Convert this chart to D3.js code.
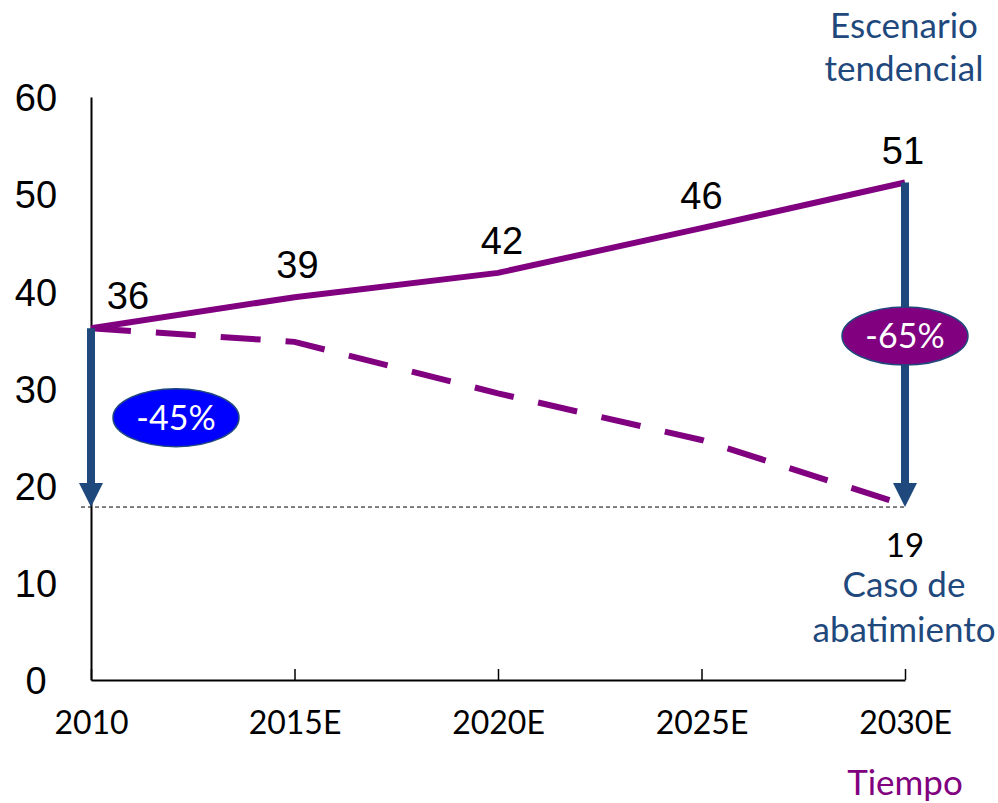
<!DOCTYPE html>
<html>
<head>
<meta charset="utf-8">
<script src="https://cdn.jsdelivr.net/npm/d3@7"></script>
<style>
  body { margin: 0; background: #fff; }
  svg { display: block; }
</style>
</head>
<body>
<svg width="998" height="803"></svg>
<script>
var years = ["2010", "2015E", "2020E", "2025E", "2030E"];
var tendencial = [36.2, 39.4, 41.9, 46.5, 51.2];
var abatimiento = [36.2, 34.8, 29.5, 24.7, 18.0];
var valueLabels = ["36", "39", "42", "46", "51"];
var yTicks = [0, 10, 20, 30, 40, 50, 60];
var baseline = 17.8;

var purple = "#800080";
var navy = "#1F497D";
var calibri = "Lato, 'Open Sans', sans-serif";
var arial = "Arial, 'Liberation Sans', sans-serif";

var svg = d3.select("svg");

var x = d3.scalePoint().domain(years).range([91, 905]);
var y = d3.scaleLinear().domain([0, 60]).range([680, 97]);

// axes
var xAxis = svg.append("g")
    .attr("transform", "translate(0," + y(0) + ")")
    .call(d3.axisBottom(x).tickSizeInner(-11).tickSizeOuter(0).tickPadding(31));
xAxis.select(".domain").attr("stroke", "#000").attr("stroke-width", 2);
xAxis.selectAll(".tick line").attr("stroke", "#000").attr("stroke-width", 1.5);
xAxis.selectAll(".tick text")
    .attr("font-family", calibri)
    .attr("font-size", 32)
    .attr("fill", "#000")
    .attr("dy", "0.72em");

var yAxis = svg.append("g")
    .attr("transform", "translate(" + x("2010") + ",0)")
    .call(d3.axisLeft(y).tickValues(yTicks).tickSize(0));
yAxis.select(".domain").attr("stroke", "#000").attr("stroke-width", 2);
yAxis.selectAll(".tick text")
    .attr("font-family", arial)
    .attr("font-size", 38)
    .attr("fill", "#000")
    .attr("text-anchor", "middle")
    .attr("x", -55)
    .attr("dy", "0.36em");

// dotted baseline
svg.append("line")
    .attr("x1", x("2010") - 10)
    .attr("x2", x("2030E"))
    .attr("y1", y(baseline))
    .attr("y2", y(baseline))
    .attr("stroke", "#000")
    .attr("stroke-width", 1)
    .attr("stroke-dasharray", "4,3");

var line = d3.line()
    .x(function (d, i) { return x(years[i]); })
    .y(function (d) { return y(d); });

svg.append("path")
    .datum(abatimiento)
    .attr("d", line)
    .attr("fill", "none")
    .attr("stroke", purple)
    .attr("stroke-width", 6)
    .attr("stroke-dasharray", "40,25");

svg.append("path")
    .datum(tendencial)
    .attr("d", line)
    .attr("fill", "none")
    .attr("stroke", purple)
    .attr("stroke-width", 6);

// reduction arrows
var arrows = [
    { year: "2010", from: tendencial[0], to: baseline },
    { year: "2030E", from: tendencial[4], to: baseline }
];
arrows.forEach(function (a) {
    var ax = x(a.year);
    svg.append("line")
        .attr("x1", ax).attr("x2", ax)
        .attr("y1", y(a.from)).attr("y2", y(a.to) - 20)
        .attr("stroke", navy)
        .attr("stroke-width", 8);
    svg.append("path")
        .attr("d", "M" + (ax - 12) + "," + (y(a.to) - 24) + "L" + (ax + 12) + "," + (y(a.to) - 24) + "L" + ax + "," + y(a.to) + "Z")
        .attr("fill", navy);
});

// percentage bubbles
var bubbles = [
    { cx: x("2010") + 85, cy: y(27), fill: "#0000FF", text: "-45%" },
    { cx: x("2030E"), cy: y(35.4), fill: purple, text: "-65%" }
];
bubbles.forEach(function (b) {
    svg.append("ellipse")
        .attr("cx", b.cx).attr("cy", b.cy)
        .attr("rx", 63).attr("ry", 29)
        .attr("fill", b.fill)
        .attr("stroke", navy)
        .attr("stroke-width", 1.5);
    svg.append("text")
        .attr("x", b.cx).attr("y", b.cy)
        .attr("dy", "0.36em")
        .attr("text-anchor", "middle")
        .attr("font-family", calibri)
        .attr("font-size", 34)
        .attr("fill", "#fff")
        .text(b.text);
});

// value labels
var labelShift = [37, 3, 4, 0, -2];
svg.selectAll(".vlabel")
    .data(valueLabels)
    .enter().append("text")
    .attr("class", "vlabel")
    .attr("x", function (d, i) { return x(years[i]) + labelShift[i]; })
    .attr("y", function (d, i) { return y(tendencial[i]) - 19; })
    .attr("text-anchor", "middle")
    .attr("font-family", arial)
    .attr("font-size", 38)
    .attr("fill", "#000")
    .text(function (d) { return d; });

svg.append("text")
    .attr("x", x("2030E"))
    .attr("y", y(baseline) + 50)
    .attr("text-anchor", "middle")
    .attr("font-family", calibri)
    .attr("font-size", 33)
    .attr("fill", "#000")
    .text("19");

// scenario labels
function multiline(lines, xp, yp, color, gap) {
    lines.forEach(function (t, i) {
        svg.append("text")
            .attr("x", xp)
            .attr("y", yp + i * gap)
            .attr("text-anchor", "middle")
            .attr("font-family", calibri)
            .attr("font-size", 35)
            .attr("fill", color)
            .text(t);
    });
}
multiline(["Escenario", "tendencial"], 904, 38, navy, 43);
multiline(["Caso de", "abatimiento"], 904, 597, navy, 45);
multiline(["Tiempo"], 905, 795, purple, 0);
</script>
</body>
</html>
